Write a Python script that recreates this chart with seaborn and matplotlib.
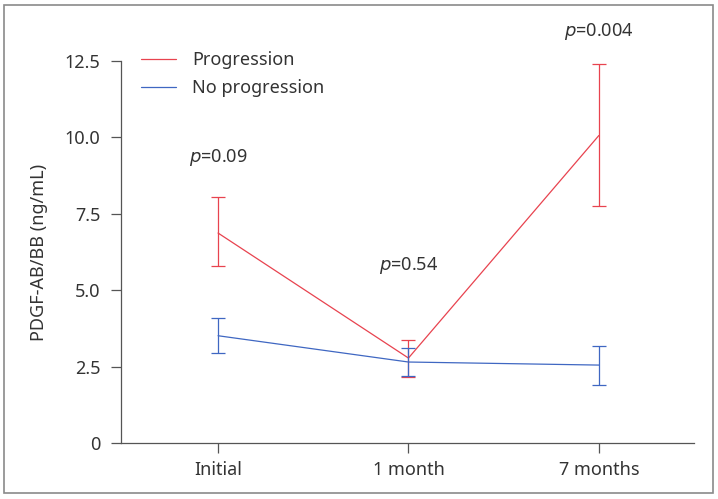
import matplotlib
matplotlib.use("Agg")
import matplotlib.pyplot as plt
from matplotlib.patches import Rectangle
import seaborn as sns
import pandas as pd

# values
timepoints = ["Initial", "1 month", "7 months"]
prog_mean = [6.87, 2.78, 10.06]
prog_low = [5.79, 2.17, 7.76]
prog_high = [8.05, 3.37, 12.40]
noprog_mean = [3.51, 2.65, 2.55]
noprog_low = [2.96, 2.18, 1.91]
noprog_high = [4.08, 3.12, 3.17]
p_labels = ["0.09", "0.54", "0.004"]
p_heights = [9.35, 5.8, 13.45]
yticks = [0, 2.5, 5.0, 7.5, 10.0, 12.5]
ytick_labels = ["0", "2.5", "5.0", "7.5", "10.0", "12.5"]

RED = "#e8434f"
BLUE = "#3f67c2"

sns.set_style("ticks")
plt.rcParams["font.family"] = ["Noto Sans", "DejaVu Sans"]

df = pd.DataFrame({
    "pos": list(range(3)) * 2,
    "value": prog_mean + noprog_mean,
    "group": ["Progression"] * 3 + ["No progression"] * 3,
})

fig = plt.figure(figsize=(7.18, 4.99), dpi=100)
ax = fig.add_axes([0.1685, 0.1122, 0.7981, 0.7656])

sns.lineplot(data=df, x="pos", y="value", hue="group",
             palette={"Progression": RED, "No progression": BLUE},
             lw=0.9, ax=ax, legend=True)

for mean, lo, hi, col in [(prog_mean, prog_low, prog_high, RED),
                          (noprog_mean, noprog_low, noprog_high, BLUE)]:
    yerr = [[m - l for m, l in zip(mean, lo)], [h - m for m, h in zip(mean, hi)]]
    ax.errorbar(range(3), mean, yerr=yerr, fmt="none", ecolor=col,
                elinewidth=0.9, capsize=4.7, capthick=0.9)

for i, (p, h) in enumerate(zip(p_labels, p_heights)):
    ax.text(i, h, "$\\it{p}$=" + p, ha="center", va="center",
            fontsize=13, color="#333333", clip_on=False)

ax.set_xlim(-0.51, 2.5)
ax.set_ylim(0, 12.5)
ax.set_xticks(range(3))
ax.set_xticklabels(timepoints)
ax.set_yticks(yticks)
ax.set_yticklabels(ytick_labels)
ax.set_xlabel("")
ax.set_ylabel("PDGF-AB/BB (ng/mL)", fontsize=13, color="#333333", labelpad=12)
ax.tick_params(axis="both", labelsize=13, colors="#555555", labelcolor="#333333",
               length=7, width=0.9, pad=6)
ax.tick_params(axis="y", pad=8)
for s in ["top", "right"]:
    ax.spines[s].set_visible(False)
for s in ["left", "bottom"]:
    ax.spines[s].set_color("#555555")
    ax.spines[s].set_linewidth(0.9)

leg = ax.legend(loc="upper left", bbox_to_anchor=(0.007, 1.068), frameon=False,
                fontsize=13, handlelength=1.9, handletextpad=0.9,
                labelspacing=0.55)
for t in leg.get_texts():
    t.set_color("#333333")

fig.patches.append(Rectangle((0.0055, 0.012), 0.988, 0.978, transform=fig.transFigure,
                             fill=False, edgecolor="#8a8a8a", lw=1.2))

fig.savefig("out.png", dpi=100)
